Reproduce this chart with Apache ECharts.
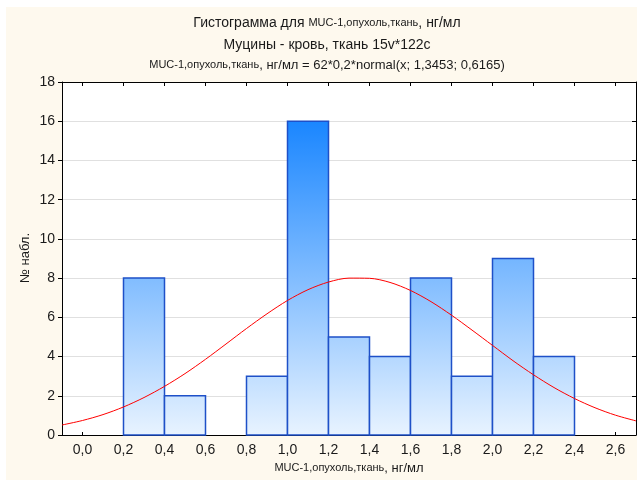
<!DOCTYPE html>
<html><head><meta charset="utf-8">
<script src="https://cdn.jsdelivr.net/npm/echarts@6/dist/echarts.min.js"></script>
<style>html,body{margin:0;padding:0;background:#fff}#c{width:637px;height:480px}</style>
</head><body><div id="c"></div>
<script>
// Histogram bins (lower edge, upper edge) and counts
var binStarts = [0.2, 0.4, 0.6, 0.8, 1.0, 1.2, 1.4, 1.6, 1.8, 2.0, 2.2];
var binEnds   = [0.4, 0.6, 0.8, 1.0, 1.2, 1.4, 1.6, 1.8, 2.0, 2.2, 2.4];
var counts    = [8, 2, 0, 3, 16, 5, 4, 8, 3, 9, 4];
// Fitted normal curve points
var curveX = [-0.1,0.0,0.1,0.2,0.3,0.4,0.5,0.6,0.7,0.8,0.9,1.0,1.1,1.2,1.3,1.4,1.5,1.6,1.7,1.8,1.9,2.0,2.1,2.2,2.3,2.4,2.5,2.6,2.7];
var curveY = [0.51,0.74,1.04,1.43,1.91,2.48,3.13,3.86,4.64,5.43,6.18,6.86,7.41,7.80,8.00,7.99,7.78,7.37,6.80,6.11,5.35,4.57,3.79,3.07,2.42,1.86,1.39,1.01,0.72];
var xTicks = [0.0,0.2,0.4,0.6,0.8,1.0,1.2,1.4,1.6,1.8,2.0,2.2,2.4,2.6];

var barData = binStarts.map(function(s,i){return [s, binEnds[i], counts[i]];});
var lineData = curveX.map(function(x,i){return [x, curveY[i]];});

var chart = echarts.init(document.getElementById('c'));
var FF = 'Liberation Sans, Arial, sans-serif';
function fmt(v){return v.toFixed(1).replace('.', ',');}
var xCommon = {
  type:'value', min:-0.1, max:2.7,
  axisLine:{show:true, onZero:false, lineStyle:{color:'#000', width:1}},
  splitLine:{show:false}
};
chart.setOption({
  animation:false,
  backgroundColor:'#ffffff',
  graphic:[
    {type:'rect', z:-100, shape:{x:6,y:7,width:631,height:473}, style:{fill:'#FEF9EE'}},
    {type:'text', x:327, y:23, style:{text:'{a|Гистограмма для }{b|MUC-1,опухоль,ткань}{a|, нг/мл}', align:'center', verticalAlign:'middle',
      rich:{a:{fontFamily:FF,fontSize:14,fill:'#1a1a1a'}, b:{fontFamily:FF,fontSize:11,fill:'#1a1a1a'}}}},
    {type:'text', x:327, y:45, style:{text:'Муцины - кровь, ткань 15v*122c', align:'center', verticalAlign:'middle', fontFamily:FF, fontSize:14, fill:'#1a1a1a'}},
    {type:'text', x:327, y:65, style:{text:'{b|MUC-1,опухоль,ткань}{a|, нг/мл = 62*0,2*normal(x; 1,3453; 0,6165)}', align:'center', verticalAlign:'middle',
      rich:{a:{fontFamily:FF,fontSize:13,fill:'#1a1a1a'}, b:{fontFamily:FF,fontSize:11,fill:'#1a1a1a'}}}},
    {type:'text', x:349, y:468, style:{text:'{b|MUC-1,опухоль,ткань}{a|, нг/мл}', align:'center', verticalAlign:'middle',
      rich:{a:{fontFamily:FF,fontSize:13,fill:'#1a1a1a'}, b:{fontFamily:FF,fontSize:11,fill:'#1a1a1a'}}}},
    {type:'text', x:25, y:258, rotation:Math.PI/2, style:{text:'№ набл.', align:'center', verticalAlign:'middle', fontFamily:FF, fontSize:13, fill:'#1a1a1a'}}
  ],
  grid:{left:62, right:1, top:82, bottom:45, show:true, backgroundColor:'#ffffff', borderWidth:0},
  xAxis:[
    Object.assign({}, xCommon, {position:'bottom',
      axisTick:{show:true, inside:true, length:3, customValues:xTicks, lineStyle:{color:'#000'}},
      axisLabel:{show:true, customValues:xTicks, formatter:fmt, fontFamily:FF, fontSize:14, color:'#1a1a1a', margin:8}}),
    Object.assign({}, xCommon, {position:'top',
      axisTick:{show:true, inside:true, length:4, customValues:xTicks, lineStyle:{color:'#000'}},
      axisLabel:{show:false}})
  ],
  yAxis:[
    {type:'value', min:0, max:18, interval:2, position:'left',
      axisLine:{show:true, onZero:false, lineStyle:{color:'#000'}},
      axisTick:{show:true, inside:false, length:4, lineStyle:{color:'#000'}},
      axisLabel:{fontFamily:FF, fontSize:14, color:'#1a1a1a', margin:7},
      splitLine:{show:true, lineStyle:{color:'#e0e0e0', width:1}}},
    {type:'value', min:0, max:18, interval:2, position:'right',
      axisLine:{show:true, onZero:false, lineStyle:{color:'#000'}},
      axisTick:{show:true, inside:true, length:4, lineStyle:{color:'#000'}},
      axisLabel:{show:false}, splitLine:{show:false}}
  ],
  series:[
    {type:'custom', xAxisIndex:0, yAxisIndex:0, data:barData, z:2,
      renderItem:function(params, api){
        var c = api.value(2);
        if (!c) return null;
        var p0 = api.coord([api.value(0), c]);
        var p1 = api.coord([api.value(1), 0]);
        var yTop = api.coord([0, 16])[1], yBot = api.coord([0, 0])[1];
        return {type:'rect', shape:{x:p0[0], y:p0[1], width:p1[0]-p0[0], height:p1[1]-p0[1]},
          style:{fill:{type:'linear', x:0, y:yTop, x2:0, y2:yBot, global:true,
            colorStops:[{offset:0,color:'#1A86FF'},{offset:1,color:'#E8F3FF'}]},
            stroke:'#1E50C8', lineWidth:1.5}};
      }},
    {type:'line', xAxisIndex:0, yAxisIndex:0, data:lineData, smooth:0.3, showSymbol:false, symbol:'none', z:3,
      lineStyle:{color:'#FF0000', width:1}}
  ]
});
</script></body></html>
